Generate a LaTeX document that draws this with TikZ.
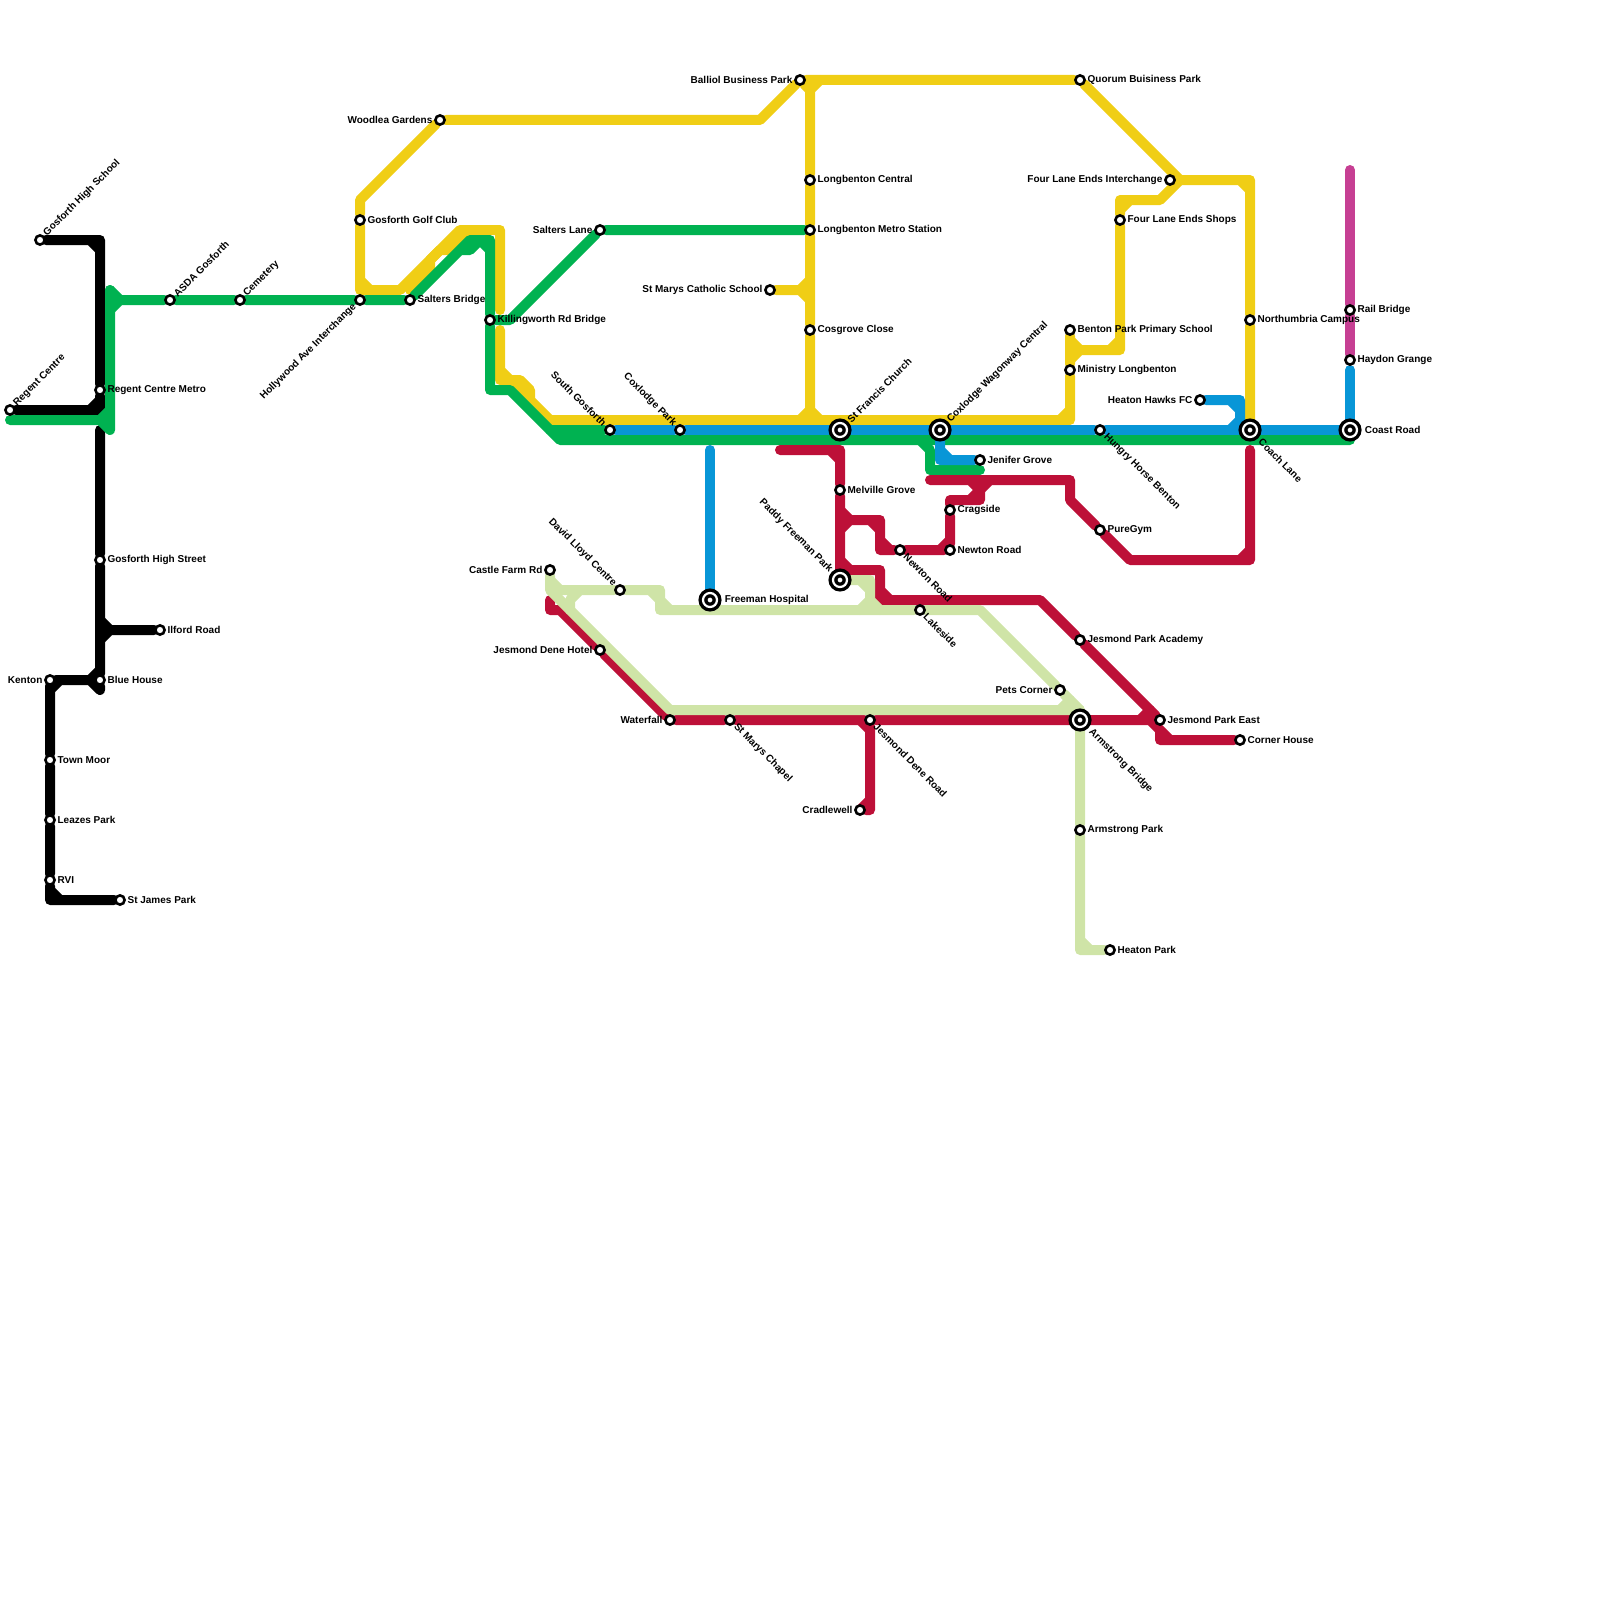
\documentclass[tikz,border=0pt]{standalone}
\usepackage{fontspec}
\setmainfont{Liberation Sans}
\usetikzlibrary{backgrounds}
\definecolor{metroyellow}{HTML}{F0CE15}
\definecolor{metrogreen}{HTML}{00B251}
\definecolor{metroblue}{HTML}{0896D7}
\definecolor{metrored}{HTML}{BD1038}
\definecolor{metropale}{HTML}{CFE4A7}
\definecolor{metropink}{HTML}{C63F93}
\tikzset{
  station/.style={circle, draw=black, fill=white, line width=1.3pt, minimum size=4.6pt, inner sep=0pt},
  hub/.style={circle, draw=black, fill=white, double=white, double distance=1.1pt, line width=1.7pt,
    minimum size=7pt, inner sep=0pt},
  lbl/.style={font=\fontsize{5}{6}\selectfont\bfseries, inner sep=0pt},
  lblr/.style={lbl, anchor=west, xshift=3.6pt},
  lbll/.style={lbl, anchor=east, xshift=-3.6pt},
  lblne/.style={lbl, rotate=45, anchor=west, xshift=3.6pt},
  lblse/.style={lbl, rotate=-45, anchor=west, xshift=3.6pt},
  lblnw/.style={lbl, rotate=-45, anchor=east, xshift=-3.6pt},
  lblsw/.style={lbl, rotate=45, anchor=east, xshift=-3.6pt},
  hubr/.style={lblr, xshift=3.6pt},
  hubne/.style={lblne, xshift=2.6pt},
  hubse/.style={lblse, xshift=3.6pt},
  hubnw/.style={lblnw, xshift=-2.6pt},
  metroline/.style={line width=5pt, line cap=round, line join=round},
  lineblack/.style={metroline, black},
  lineyellow/.style={metroline, metroyellow},
  linegreen/.style={metroline, metrogreen},
  lineblue/.style={metroline, metroblue},
  linered/.style={metroline, metrored},
  linepale/.style={metroline, metropale},
  linepink/.style={metroline, metropink},
}
\begin{document}
\begin{tikzpicture}[x=5pt, y=-5pt]
\useasboundingbox (0,0) rectangle (160,160);
\coordinate (blacktop) at (10,43);
\coordinate (greenleft) at (1,42);
\coordinate (redleft) at (78,45);
\coordinate (pinktop) at (135,17);
\coordinate (bluetop) at (135,37);
\foreach \id/\x/\y/\side/\txt in {
  regentcentre/1/41/lblne/Regent Centre, gosforthschool/4/24/lblne/Gosforth High School,
  regentmetro/10/39/lblr/Regent Centre Metro, gosforthst/10/56/lblr/Gosforth High Street,
  ilford/16/63/lblr/Ilford Road, bluehouse/10/68/lblr/Blue House, kenton/5/68/lbll/Kenton,
  townmoor/5/76/lblr/Town Moor, leazes/5/82/lblr/Leazes Park, rvi/5/88/lblr/RVI,
  stjames/12/90/lblr/St James Park, asda/17/30/lblne/ASDA Gosforth, cemetery/24/30/lblne/Cemetery,
  hollywood/36/30/lblsw/Hollywood Ave Interchange, saltersbr/41/30/lblr/Salters Bridge,
  golfclub/36/22/lblr/Gosforth Golf Club, woodlea/44/12/lbll/Woodlea Gardens,
  killingworth/49/32/lblr/Killingworth Rd Bridge, salterslane/60/23/lbll/Salters Lane,
  balliol/80/8/lbll/Balliol Business Park, quorum/108/8/lblr/Quorum Buisiness Park,
  longcentral/81/18/lblr/Longbenton Central, longmetro/81/23/lblr/Longbenton Metro Station,
  stmarys/77/29/lbll/St Marys Catholic School, cosgrove/81/33/lblr/Cosgrove Close,
  southgosforth/61/43/lblnw/South Gosforth, coxlodgepark/68/43/lblnw/Coxlodge Park,
  benton/107/33/lblr/Benton Park Primary School, ministry/107/37/lblr/Ministry Longbenton,
  fourlaneint/117/18/lbll/Four Lane Ends Interchange, fourlaneshops/112/22/lblr/Four Lane Ends Shops,
  northumbria/125/32/lblr/Northumbria Campus, railbridge/135/31/lblr/Rail Bridge,
  haydon/135/36/lblr/Haydon Grange, heatonhawks/120/40/lbll/Heaton Hawks FC,
  hungryhorse/110/43/lblse/Hungry Horse Benton, jenifer/98/46/lblr/Jenifer Grove,
  melville/84/49/lblr/Melville Grove, cragside/95/51/lblr/Cragside, newtonrd/95/55/lblr/Newton Road,
  newtonsw/90/55/lblse/Newton Road, puregym/110/53/lblr/PureGym, lakeside/92/61/lblse/Lakeside,
  castlefarm/55/57/lbll/Castle Farm Rd, davidlloyd/62/59/lblnw/David Lloyd Centre,
  jesmondhotel/60/65/lbll/Jesmond Dene Hotel, waterfall/67/72/lbll/Waterfall,
  stchapel/73/72/lblse/St Marys Chapel, jesmondroad/87/72/lblse/Jesmond Dene Road,
  cradlewell/86/81/lbll/Cradlewell, parkacademy/108/64/lblr/Jesmond Park Academy,
  petscorner/106/69/lbll/Pets Corner, parkeast/116/72/lblr/Jesmond Park East,
  cornerhouse/124/74/lblr/Corner House, armstrongpark/108/83/lblr/Armstrong Park,
  heatonpark/111/95/lblr/Heaton Park}
{
  \node[station] (\id) at (\x,\y) {};
  \node[\side] (\id-txt) at (\x,\y) {\txt};
}
\foreach \id/\x/\y/\side/\txt in {
  stfrancis/84/43/hubne/St Francis Church, wagonway/94/43/hubne/Coxlodge Wagonway Central,
  coachlane/125/43/hubse/Coach Lane, coastroad/135/43/hubr/Coast Road,
  paddy/84/58/hubnw/Paddy Freeman Park, freeman/71/60/hubr/Freeman Hospital,
  armstrong/108/72/hubse/Armstrong Bridge}
{
  \node[hub] (\id) at (\x,\y) {};
  \node[\side] (\id-txt) at (\x,\y) {\txt};
}
\begin{scope}[on background layer]
\draw[lineblack] (gosforthschool) -- (10,24) -- (regentmetro) -- (10,41) -- (regentcentre)
  (9,24) -- (10,25) (9,41) -- (10,40);
\draw[lineblack] (blacktop) -- (gosforthst) -- (bluehouse) -- (10,69) -- (9,68) -- (kenton) -- (townmoor)
  -- (leazes) -- (rvi) -- (5,90) -- (stjames) (9,68) -- (10,67) (5,69) -- (6,68) (5,89) -- (6,90);
\draw[lineblack] (10,62) -- (11,63) -- (10,64) (11,63) -- (ilford);

\draw[lineyellow] (golfclub) -- (36,29) -- (40,29) -- (46,23) -- (50,23) -- (50,31) (36,28) -- (37,29);
\draw[lineyellow] (41,29) -- (43,27) -- (43,26) -- (44,25) -- (45,25) -- (47,23);
\draw[lineyellow] (golfclub) -- (36,20) -- (woodlea) -- (76,12) -- (balliol) -- (quorum) -- (118,18)
  -- (125,18) -- (northumbria) -- (coachlane) (124,18) -- (125,19);
\draw[lineyellow] (benton) -- (ministry) -- (107,42) -- (55,42) -- (53,40) -- (53,39) -- (52,38) -- (50,38)
  -- (50,33) (106,42) -- (107,41) (55,42) -- (51,38) (50,37) -- (51,38);
\draw[lineyellow] (107,34) -- (108,35) -- (107,36) (108,35) -- (112,35) -- (fourlaneshops) -- (112,20)
  -- (116,20) -- (118,18) (111,35) -- (112,34) (112,21) -- (113,20);
\draw[lineyellow] (balliol) -- (81,9) -- (82,8) (81,9) -- (longcentral) -- (longmetro) -- (cosgrove) -- (81,42)
  (80,42) -- (81,41) -- (82,42);
\draw[lineyellow] (stmarys) -- (80,29) (81,28) -- (80,29) -- (81,30);

\draw[linegreen] (greenleft) -- (11,42) (11,29) -- (11,43) -- (10,42) -- (11,41);
\draw[linegreen] (11,31) -- (12,30) -- (11,29) (12,30) -- (asda) -- (cemetery) -- (hollywood) -- (saltersbr)
  -- (47,24) -- (49,24) -- (killingworth) -- (49,39) -- (51,39) -- (56,44) -- (135,44)
  (48,24) -- (49,25) (46,25) -- (47,25) -- (48,24);
\draw[linegreen] (killingworth) -- (51,32) -- (salterslane) -- (longmetro);
\draw[linegreen] (55,43) -- (southgosforth);
\draw[linegreen] (92,44) -- (93,45) -- (93,47) -- (98,47);

\draw[lineblue] (southgosforth) -- (coxlodgepark) -- (stfrancis) -- (wagonway) -- (hungryhorse) -- (coachlane)
  -- (coastroad) -- (bluetop);
\draw[lineblue] (71,45) -- (freeman);
\draw[lineblue] (wagonway) -- (94,46) -- (jenifer) (94,45) -- (95,46);
\draw[lineblue] (heatonhawks) -- (124,40) -- (124,43) (123,40) -- (124,41) (124,42) -- (123,43);
\draw[linepink] (pinktop) -- (railbridge) -- (haydon);

\draw[linered] (55,60) -- (55,61) -- (56,61) -- (jesmondhotel) -- (waterfall) -- (stchapel) -- (jesmondroad)
  -- (armstrong) -- (115,72) -- (116,73) -- (116,74) -- (cornerhouse) (114,72) -- (115,71) (116,73) -- (117,74);
\draw[linered] (jesmondroad) -- (87,81) -- (cradlewell) (86,72) -- (87,73) (86,81) -- (87,80);
\draw[linered] (redleft) -- (84,45) -- (melville) -- (paddy) (83,45) -- (84,46);
\draw[linered] (84,53) -- (85,52) -- (84,51) (85,52) -- (88,52) -- (88,55) -- (newtonsw) -- (newtonrd)
  -- (cragside) -- (95,50) -- (98,50) -- (98,48) (87,52) -- (88,53) (88,54) -- (89,55) (94,55) -- (95,54);
\draw[linered] (93,48) -- (107,48) -- (107,50) -- (puregym) -- (113,56) -- (125,56) -- (125,45)
  (97,50) -- (98,49) -- (97,48) (98,49) -- (99,48) (124,56) -- (125,55);
\draw[linered] (84,56) -- (85,57) -- (88,57) -- (88,60) -- (104,60) -- (parkacademy) -- (parkeast)
  (88,59) -- (89,60);

\draw[linepale] (castlefarm) -- (55,59) -- (67,71) -- (108,71) -- (armstrong) -- (armstrongpark) -- (108,95)
  -- (heatonpark) (108,94) -- (109,95) (106,71) -- (107,70);
\draw[linepale] (55,58) -- (56,59) -- (davidlloyd) -- (66,59) -- (66,61) -- (lakeside) -- (98,61)
  -- (petscorner) -- (108,71) (65,59) -- (66,60) -- (67,61) (58,59) -- (57,60) -- (57,61);
\draw[linepale] (paddy) -- (87,58) -- (87,60) -- (88,61) (86,58) -- (87,59) (86,61) -- (87,60);
\end{scope}
\end{tikzpicture}
\end{document}
